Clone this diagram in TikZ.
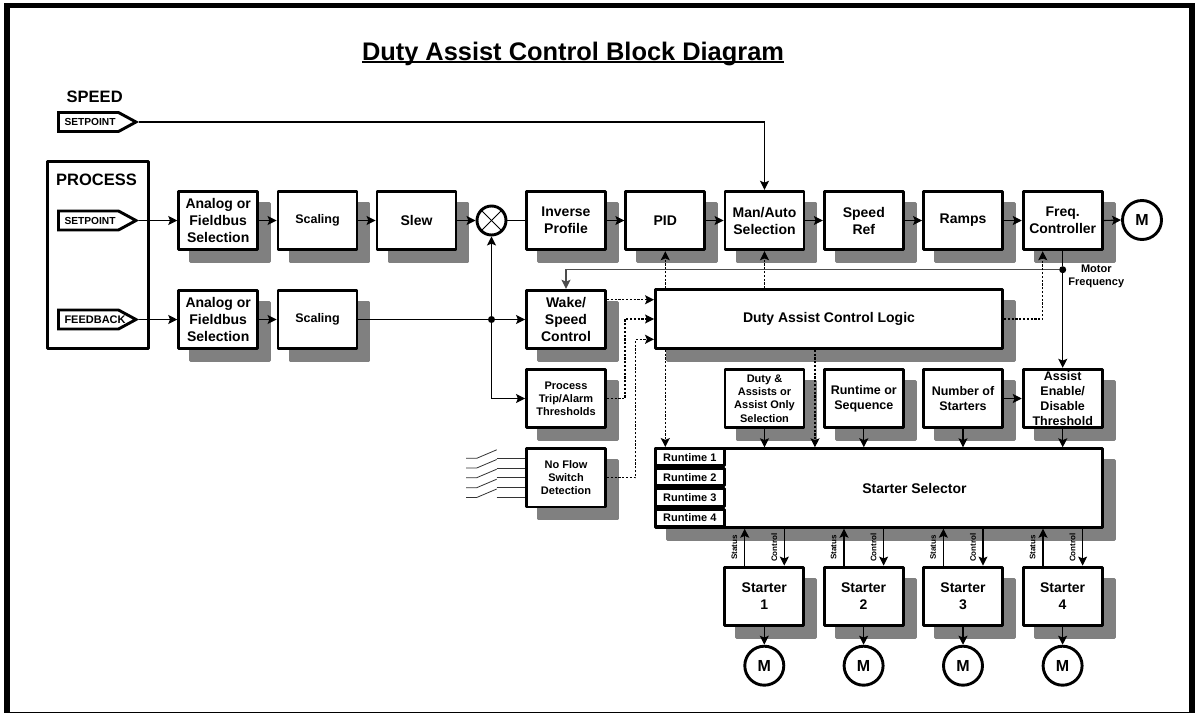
\documentclass[tikz,border=0pt]{standalone}
\usepackage{fontspec}
\setmainfont{Liberation Sans}
\usetikzlibrary{arrows.meta,shapes.symbols,shadows,calc}
\definecolor{shgray}{HTML}{808080}
\newcommand{\fxl}{\fontsize{25.4}{30}\selectfont\bfseries}
\newcommand{\fl}{\fontsize{16.5}{20}\selectfont\bfseries}
\newcommand{\fa}{\fontsize{14}{17}\selectfont\bfseries}
\newcommand{\fb}{\fontsize{12.5}{15}\selectfont\bfseries}
\newcommand{\fc}{\fontsize{11}{13.2}\selectfont\bfseries}
\newcommand{\fd}{\fontsize{8}{9}\selectfont\bfseries}
\newsavebox{\ttlbox}
\tikzset{
  plain/.style={draw=black,line width=2.9pt,line join=round,fill=white,align=center,inner sep=0pt,font=\fa},
  blk/.style={plain,minimum width=79pt,minimum height=58.5pt,
    general shadow={fill=shgray,draw=shgray,shadow xshift=12pt,shadow yshift=-12pt}},
  motor/.style={draw=black,line width=2.9pt,fill=white,circle,inner sep=0pt,minimum size=39pt,font=\fontsize{16}{18}\selectfont\bfseries},
  tag/.style={draw=black,line width=2.9pt,fill=white,signal,signal to=east,signal pointer angle=57,
     inner xsep=0pt,inner ysep=0pt,minimum height=19pt,font=\fontsize{10.2}{12}\selectfont\bfseries},
  arr/.style={-{Stealth[length=9pt,width=9pt,inset=1.8pt]},line width=1.1pt,draw=black},
  wire/.style={line width=1.1pt,draw=black},
  dashline/.style={line width=1.1pt,draw=black,dash pattern=on 2.2pt off 1.6pt},
  darr/.style={dashline,-{Stealth[length=9pt,width=9pt,inset=1.8pt]}},
  dot/.style={circle,fill=black,inner sep=0pt,minimum size=7pt},
  lab/.style={inner sep=0pt,align=center},
}
\begin{document}
\begin{tikzpicture}[x=1pt,y=-1pt]
\useasboundingbox (0,0) rectangle (1200,713);
\fill[white] (0,0) rectangle (1200,713);
% frame
\fill[black] (4,2.5) rectangle (1195,7.8);
\fill[black] (4,2.5) rectangle (10,713);
\fill[black] (1189,2.5) rectangle (1195,713);
\fill[black] (4,711.6) rectangle (1195,713);
% title
\node[lab,anchor=base,font=\fxl] (title) at (573,60) {\sbox{\ttlbox}{Duty Assist Control Block Diagram}\usebox{\ttlbox}\llap{\rule[-3pt]{\wd\ttlbox}{1.8pt}}};
\node[lab,font=\fl] (speedlab) at (94.7,97) {SPEED};
\node[tag] (tspeed) at (88.5,122) {\makebox[60pt][l]{\hspace*{6pt}SETPOINT}};
% process box
\node[plain,minimum width=101pt,minimum height=187pt] (proc) at (98,255) {};
\node[lab,font=\fl] (proclab) at (96.5,180) {PROCESS};
\node[tag] (tset) at (88.5,220.5) {\makebox[60pt][l]{\hspace*{6pt}SETPOINT}};
\node[tag] (tfb) at (88.5,319.5) {\makebox[60pt][l]{\hspace*{6pt}\fontsize{11}{12}\selectfont FEEDBACK}};
% row 1
\node[blk] (a1) at (218.2,220.5) {Analog or\\Fieldbus\\Selection};
\node[blk,font=\fb] (s1) at (317.5,220.5) {Scaling};
\node[blk] (slew) at (416.5,220.5) {Slew};
\node[draw=black,line width=2.9pt,fill=white,circle,inner sep=0pt,minimum size=29pt] (sum) at (491.5,220.5) {};
\node[blk] (inv) at (566,220.5) {Inverse\\Profile};
\node[blk] (pid) at (665.3,220.5) {PID};
\node[blk] (man) at (764.5,220.5) {Man/Auto\\Selection};
\node[blk] (ref) at (863.8,220.5) {Speed\\Ref};
\node[blk] (ramps) at (963,220.5) {Ramps};
\node[blk] (freq) at (1062.7,220.5) {Freq.\\Controller};
\node[motor] (m0) at (1142,220) {M};
% row 2
\node[blk] (a2) at (218.2,319.5) {Analog or\\Fieldbus\\Selection};
\node[blk,font=\fb] (s2) at (317.5,319.5) {Scaling};
\node[blk] (wake) at (566,319.5) {Wake/\\Speed\\Control};
\node[blk,minimum width=347pt] (logic) at (829,319) {Duty Assist Control Logic};
% row 3
\node[blk,font=\fc] (trip) at (566,398.5) {Process\\Trip/Alarm\\Thresholds};
\node[blk,font=\fc] (duty) at (764.5,398.5) {Duty \&\\Assists or\\Assist Only\\Selection};
\node[blk,font=\fb] (rts) at (863.8,398.5) {Runtime or\\Sequence};
\node[blk,font=\fb] (nos) at (963,398.5) {Number of\\Starters};
\node[blk,font=\fb] (aed) at (1062.7,398.5) {Assist\\Enable/\\Disable\\Threshold};
% no flow
\node[blk,font=\fc] (nof) at (566,477.7) {No Flow\\Switch\\Detection};
% selector
\node[blk,minimum width=447pt,minimum height=78.5pt] (sel) at (879,488) {\hspace*{71pt}Starter Selector};
\foreach \n/\y in {1/457.2,2/477.2,3/497.4,4/518}{
  \node[plain,font=\fc,minimum width=68.8pt,minimum height=17.4pt] (rt\n) at (689.8,\y) {Runtime \n};
}
% starters and motors
\foreach \n/\x in {1/764.3,2/863.6,3/963,4/1062.6}{
  \node[blk] (st\n) at (\x,596.3) {Starter\\\n};
  \node[motor] (m\n) at (\x,665.7) {M};
  \draw[arr] (st\n.south) -- (m\n.north);
  \coordinate (us\n) at ($(st\n.north)+(-19.6,0)$);
  \coordinate (uc\n) at ($(st\n.north)+(20,0)$);
  \draw[arr] (us\n) -- (us\n |- sel.south);
  \draw[arr] (uc\n |- sel.south) -- (uc\n);
  \node[lab,font=\fd,rotate=90] (ls\n) at ($(st\n.north)+(-30,-18)$) {Status};
  \node[lab,font=\fd,rotate=90] (lc\n) at ($(st\n.north)+(10,-18)$) {Control};
}
% sum cross
\draw[wire,line width=.8pt] (sum.north west) -- (sum.south east);
\draw[wire,line width=.8pt] (sum.north east) -- (sum.south west);
% speed setpoint
\draw[arr] (tspeed.east) -| (man.north);
% row 1 links
\draw[arr] (tset.east) -- (a1.west);
\draw[arr] (a1.east) -- (s1.west);
\draw[arr] (s1.east) -- (slew.west);
\draw[arr] (slew.east) -- (sum.west);
\draw[wire] (sum.east) -- (inv.west);
\draw[arr] (inv.east) -- (pid.west);
\draw[arr] (pid.east) -- (man.west);
\draw[arr] (man.east) -- (ref.west);
\draw[arr] (ref.east) -- (ramps.west);
\draw[arr] (ramps.east) -- (freq.west);
\draw[arr] (freq.east) -- (m0.west);
% row 2 links
\draw[arr] (tfb.east) -- (a2.west);
\draw[arr] (a2.east) -- (s2.west);
\node[dot] (jp) at (sum.south |- wake.west) {};
\draw[wire] (s2.east) -- (jp);
\draw[arr] (jp) -- (wake.west);
\draw[arr] (jp) -- (sum.south);
\draw[arr] (jp) |- (trip.west);
% motor frequency
\coordinate (mfy) at (0,269.7);
\node[dot] (jm) at (freq.south |- mfy) {};
\draw[wire] (freq.south) -- (jm);
\draw[arr] (jm) -- (aed.north);
\draw[arr,line width=1.4pt,draw=black!70] (jm) -| (wake.north);
\node[lab,font=\fc] (mf) at (1096.3,276) {Motor\\Frequency};
% dashed control
\draw[darr] (pid.south |- logic.north) -- (pid.south);
\draw[darr] (man.south |- logic.north) -- (man.south);
\coordinate (fin) at ($(freq.south)+(-20,0)$);
\draw[darr] (logic.east) -| (fin);
\coordinate (wo) at ($(wake.east)+(0,-19.8)$);
\coordinate (li1) at ($(logic.west)+(0,-19.3)$);
\coordinate (li3) at ($(logic.west)+(0,20.3)$);
\draw[darr] (wo) -- (li1 |- wo);
\coordinate (ds1) at (625,0);
\coordinate (ds2) at (635.7,0);
\draw[darr] (trip.east) -| (ds1 |- logic.west) -- (logic.west);
\draw[darr] (nof.east) -| (ds2 |- li3) -- (li3);
\coordinate (lo1) at ($(rt1.north)+(-24.5,0)$);
\draw[darr] (lo1 |- logic.south) -- (lo1);
\coordinate (lo2) at ($(duty.east)+(9.5,0)$);
\draw[darr] (lo2 |- logic.south) -- (lo2 |- sel.north);
% selector inputs
\draw[arr] (duty.south) -- (duty.south |- sel.north);
\draw[arr] (rts.south) -- (rts.south |- sel.north);
\draw[arr] (nos.south) -- (nos.south |- sel.north);
\draw[arr] (aed.south) -- (aed.south |- sel.north);
\draw[arr] (nos.east) -- (aed.west);
% switches
\foreach \n/\y in {1/458.3,2/468,3/477.7,4/487.7,5/497.5}{
  \coordinate (swa\n) at (466,\y);
  \coordinate (swb\n) at (476.7,\y);
  \coordinate (swc\n) at (496.7,\y-8.5);
  \coordinate (swd\n) at (496.7,\y);
  \coordinate (swe\n) at (nof.west |- swd\n);
  \draw[line width=.8pt,draw=black!80] (swa\n) -- (swb\n) -- (swc\n);
  \draw[line width=.8pt,draw=black!80] (swd\n) -- (swe\n);
}
\end{tikzpicture}
\end{document}
